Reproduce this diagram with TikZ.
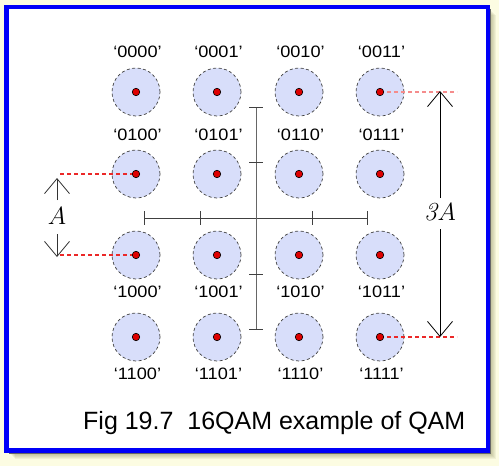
\documentclass[tikz,border=0pt]{standalone}
\usepackage{fontspec}
\newfontfamily\lblfont[FakeStretch=1.1]{Liberation Sans}
\newfontfamily\capfont{Liberation Sans}
\usetikzlibrary{arrows.meta}
\definecolor{bgyellow}{RGB}{252,252,226}
\definecolor{shadowc}{RGB}{120,120,70}
\definecolor{frameblue}{RGB}{0,0,248}
\definecolor{cfill}{RGB}{216,222,250}
\definecolor{dotred}{RGB}{222,0,0}
\definecolor{guidered}{RGB}{235,40,40}
\definecolor{guidepink}{RGB}{245,140,140}
\tikzset{
  sym/.style={circle, minimum size=48pt, inner sep=0pt, fill=cfill, draw=black!75, dash pattern=on 3pt off 2.5pt, line width=0.7pt},
  dot/.style={circle, minimum size=7.5pt, inner sep=0pt, fill=dotred, draw=black, line width=0.6pt},
  lbl/.style={font=\lblfont\fontsize{16.5}{18}\selectfont, inner sep=0pt, anchor=base},
  axis/.style={line width=0.8pt, draw=black!75},
  guide/.style={draw=guidered, dash pattern=on 4pt off 3pt, line width=1.2pt},
  dim/.style={line width=0.8pt, -{Straight Barb[length=15pt,width=25pt,line width=0.8pt]}},
  dimlbl/.style={font=\fontsize{24}{28}\selectfont, inner sep=0pt}
}
\begin{document}
\begin{tikzpicture}[x=1pt,y=-1pt]
\fill[bgyellow] (0,0) rectangle (499,466);
\useasboundingbox (0,0) rectangle (499,466);
% shadow
\foreach \i in {1,...,8}{
  \fill[shadowc, opacity=0.09] (6.5+\i,7+\i) rectangle (488+\i,450.5+\i);
}
\fill[white] (6.5,7) rectangle (488,450.5);
\draw[frameblue, line width=4.5pt] (6.5,7) rectangle (488,450.5);
\draw[black!60, line width=0.6pt] (490.5,9) -- (490.5,453) -- (9,453);

% constellation
\foreach \r/\y/\ly/\b in {0/92/57/00,1/174/140/01,2/255/297/10,3/337/379/11}{
  \foreach \c/\x/\cb in {0/136/00,1/217/01,2/299/10,3/380/11}{
    \node[sym] (c-\r-\c) at (\x,\y) {};
    \node[lbl] (l-\r-\c) at (\x+1.5,\ly) {‘\b\cb’};
  }
}

% guide lines
\coordinate (gl1) at (60,174); \coordinate (gl2) at (60,255);
\coordinate (gr1) at (457,92); \coordinate (gr2) at (457,337);
\draw[guide] (gl1) -- (c-1-0.center);
\draw[guide] (gl2) -- (c-2-0.center);
\draw[guide, draw=guidepink] (c-0-3.center) -- (gr1);
\draw[guide] (c-3-3.center) -- (gr2);

% dots
\foreach \r in {0,...,3}{
  \foreach \c in {0,...,3}{
    \node[dot] (d-\r-\c) at (c-\r-\c.center) {};
  }
}

% axes
\coordinate (hl) at (144,218); \coordinate (hr) at (367,218);
\coordinate (vt) at (256,107); \coordinate (vb) at (256,329);
\draw[axis] (hl) -- (hr);
\draw[axis, draw=black!60] (vt) -- (vb);
\foreach \x in {144,200,312,367}{ \draw[axis] (\x,211) -- (\x,225); }
\foreach \y in {107,162,274,329}{ \draw[axis] (249,\y) -- (263,\y); }

% dimension A
\node[dimlbl] (A) at (57,216) {$A$};
\coordinate (At) at (57,178); \coordinate (Ab) at (57,257);
\coordinate (As1) at (57,200); \coordinate (As2) at (57,234);
\draw[dim, draw=black!80] (As1) -- (At);
\draw[dim, draw=black!80] (As2) -- (Ab);

% dimension 3A
\node[dimlbl, font=\fontsize{26}{30}\selectfont] (TA) at (440,212) {\textit{3}\kern-1pt$A$};
\coordinate (Tt) at (440,91); \coordinate (Tb) at (440,337);
\coordinate (Ts1) at (440,198); \coordinate (Ts2) at (440,229);
\draw[dim] (Ts1) -- (Tt);
\draw[dim] (Ts2) -- (Tb);

% caption
\node[anchor=base west, inner sep=0pt, font=\capfont\fontsize{25}{29}\selectfont] (cap) at (83,429) {Fig 19.7\ \ 16QAM example of QAM};
\end{tikzpicture}
\end{document}
